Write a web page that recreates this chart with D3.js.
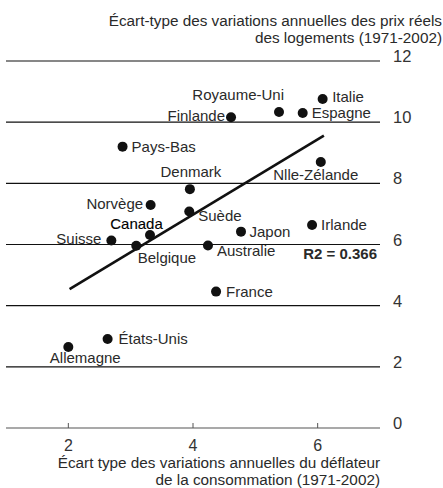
<!DOCTYPE html>
<html>
<head>
<meta charset="utf-8">
<script src="https://cdn.jsdelivr.net/npm/d3@7"></script>
<style>
  html, body { margin: 0; padding: 0; background: #fff; }
  svg text { font-family: "Liberation Sans", Arial, Helvetica, sans-serif; }
</style>
</head>
<body>
<svg id="chart" width="443" height="488"></svg>
<script>
// ---- Data ----
const countries = ["Italie", "Royaume-Uni", "Espagne", "Finlande", "Pays-Bas", "Nlle-Zélande",
  "Denmark", "Norvège", "Suède", "Japon", "Irlande", "Canada", "Suisse", "Belgique",
  "Australie", "France", "États-Unis", "Allemagne"];
const deflatorStd = [6.08, 5.38, 5.76, 4.61, 2.87, 6.05, 3.95, 3.32, 3.94, 4.77, 5.91, 3.31,
  2.69, 3.09, 4.24, 4.37, 2.63, 2.00];
const housePriceStd = [10.76, 10.33, 10.30, 10.16, 9.20, 8.70, 7.81, 7.29, 7.08, 6.42, 6.64, 6.31,
  6.13, 5.96, 5.97, 4.46, 2.91, 2.65];
const trendX = [2.02, 6.10];
const trendY = [4.54, 9.56];
const r2Label = "R2 = 0.366";
const xTicks = [2, 4, 6];
const yTicks = [0, 2, 4, 6, 8, 10, 12];
const yTitle = ["Écart-type des variations annuelles des prix réels", "des logements (1971-2002)"];
const xTitle = ["Écart type des variations annuelles du déflateur", "de la consommation (1971-2002)"];

// ---- Label placement (layout only) ----
const labelPos = {
  "Italie": [9.5, 3, "start"],
  "Royaume-Uni": [5, -12, "end"],
  "Espagne": [9, 5, "start"],
  "Finlande": [-6, 3.5, "end"],
  "Pays-Bas": [9, 5, "start"],
  "Nlle-Zélande": [-5, 18, "middle"],
  "Denmark": [1, -12, "middle"],
  "Norvège": [-7.5, 4, "end"],
  "Suède": [9, 10, "start"],
  "Japon": [8.5, 5, "start"],
  "Irlande": [9, 5, "start"],
  "Canada": [-13.5, -6, "middle"],
  "Suisse": [-10, 3, "end"],
  "Belgique": [1.5, 17.5, "start"],
  "Australie": [9, 11, "start"],
  "France": [10, 5, "start"],
  "États-Unis": [11, 5, "start"],
  "Allemagne": [-18.5, 16.5, "start"]
};

const svg = d3.select("#chart");
const x = d3.scaleLinear().domain([1, 7]).range([6, 380]);
const y = d3.scaleLinear().domain([0, 12]).range([428, 61]);
const textColor = "#2a2a2a";

// Gridlines
svg.append("g").selectAll("line").data(yTicks).join("line")
  .attr("x1", x(1)).attr("x2", x(7))
  .attr("y1", d => y(d)).attr("y2", d => y(d))
  .attr("stroke", d => d === 0 ? "#555" : "#111")
  .attr("stroke-width", 1.2);

// Y tick labels (right side)
svg.append("g").selectAll("text").data(yTicks).join("text")
  .attr("x", 393).attr("y", d => y(d) + 1)
  .attr("font-size", 16.5).attr("fill", "#333")
  .text(d => d);

// X ticks
svg.append("g").selectAll("line").data(xTicks).join("line")
  .attr("x1", d => x(d)).attr("x2", d => x(d))
  .attr("y1", y(0)).attr("y2", y(0) - 5)
  .attr("stroke", "#555").attr("stroke-width", 1);
svg.append("g").selectAll("text").data(xTicks).join("text")
  .attr("x", d => x(d)).attr("y", 451)
  .attr("text-anchor", "middle")
  .attr("font-size", 16).attr("fill", "#333")
  .text(d => d);

// Titles
svg.append("g").selectAll("text").data(yTitle).join("text")
  .attr("x", 442).attr("y", (d, i) => 26 + i * 17)
  .attr("text-anchor", "end").attr("font-size", 15.3).attr("fill", textColor)
  .text(d => d);
svg.append("g").selectAll("text").data(xTitle).join("text")
  .attr("x", 380).attr("y", (d, i) => 467.5 + i * 17.5)
  .attr("text-anchor", "end").attr("font-size", 15.3).attr("fill", textColor)
  .text(d => d);

// Trend line
const trend = trendX.map((v, i) => [v, trendY[i]]);
svg.append("path")
  .attr("d", d3.line().x(d => x(d[0])).y(d => y(d[1]))(trend))
  .attr("fill", "none").attr("stroke", "#111").attr("stroke-width", 2.6);

// Points
const pts = countries.map((c, i) => ({ c, xv: deflatorStd[i], yv: housePriceStd[i] }));
svg.append("g").selectAll("circle").data(pts).join("circle")
  .attr("cx", d => x(d.xv)).attr("cy", d => y(d.yv))
  .attr("r", 5).attr("fill", "#111");

// Labels
svg.append("g").selectAll("text").data(pts).join("text")
  .attr("x", d => x(d.xv) + labelPos[d.c][0])
  .attr("y", d => y(d.yv) + labelPos[d.c][1])
  .attr("text-anchor", d => labelPos[d.c][2])
  .attr("font-size", 15)
  .attr("fill", d => d.c === "Canada" ? "#000" : textColor)
  .attr("stroke", d => d.c === "Canada" ? "#000" : "none")
  .attr("stroke-width", d => d.c === "Canada" ? 0.12 : 0)
  .text(d => d.c);

// R2
svg.append("text")
  .attr("x", 377).attr("y", 258.5)
  .attr("text-anchor", "end").attr("font-size", 15).attr("font-weight", "bold")
  .attr("fill", textColor).text(r2Label);
</script>
</body>
</html>
